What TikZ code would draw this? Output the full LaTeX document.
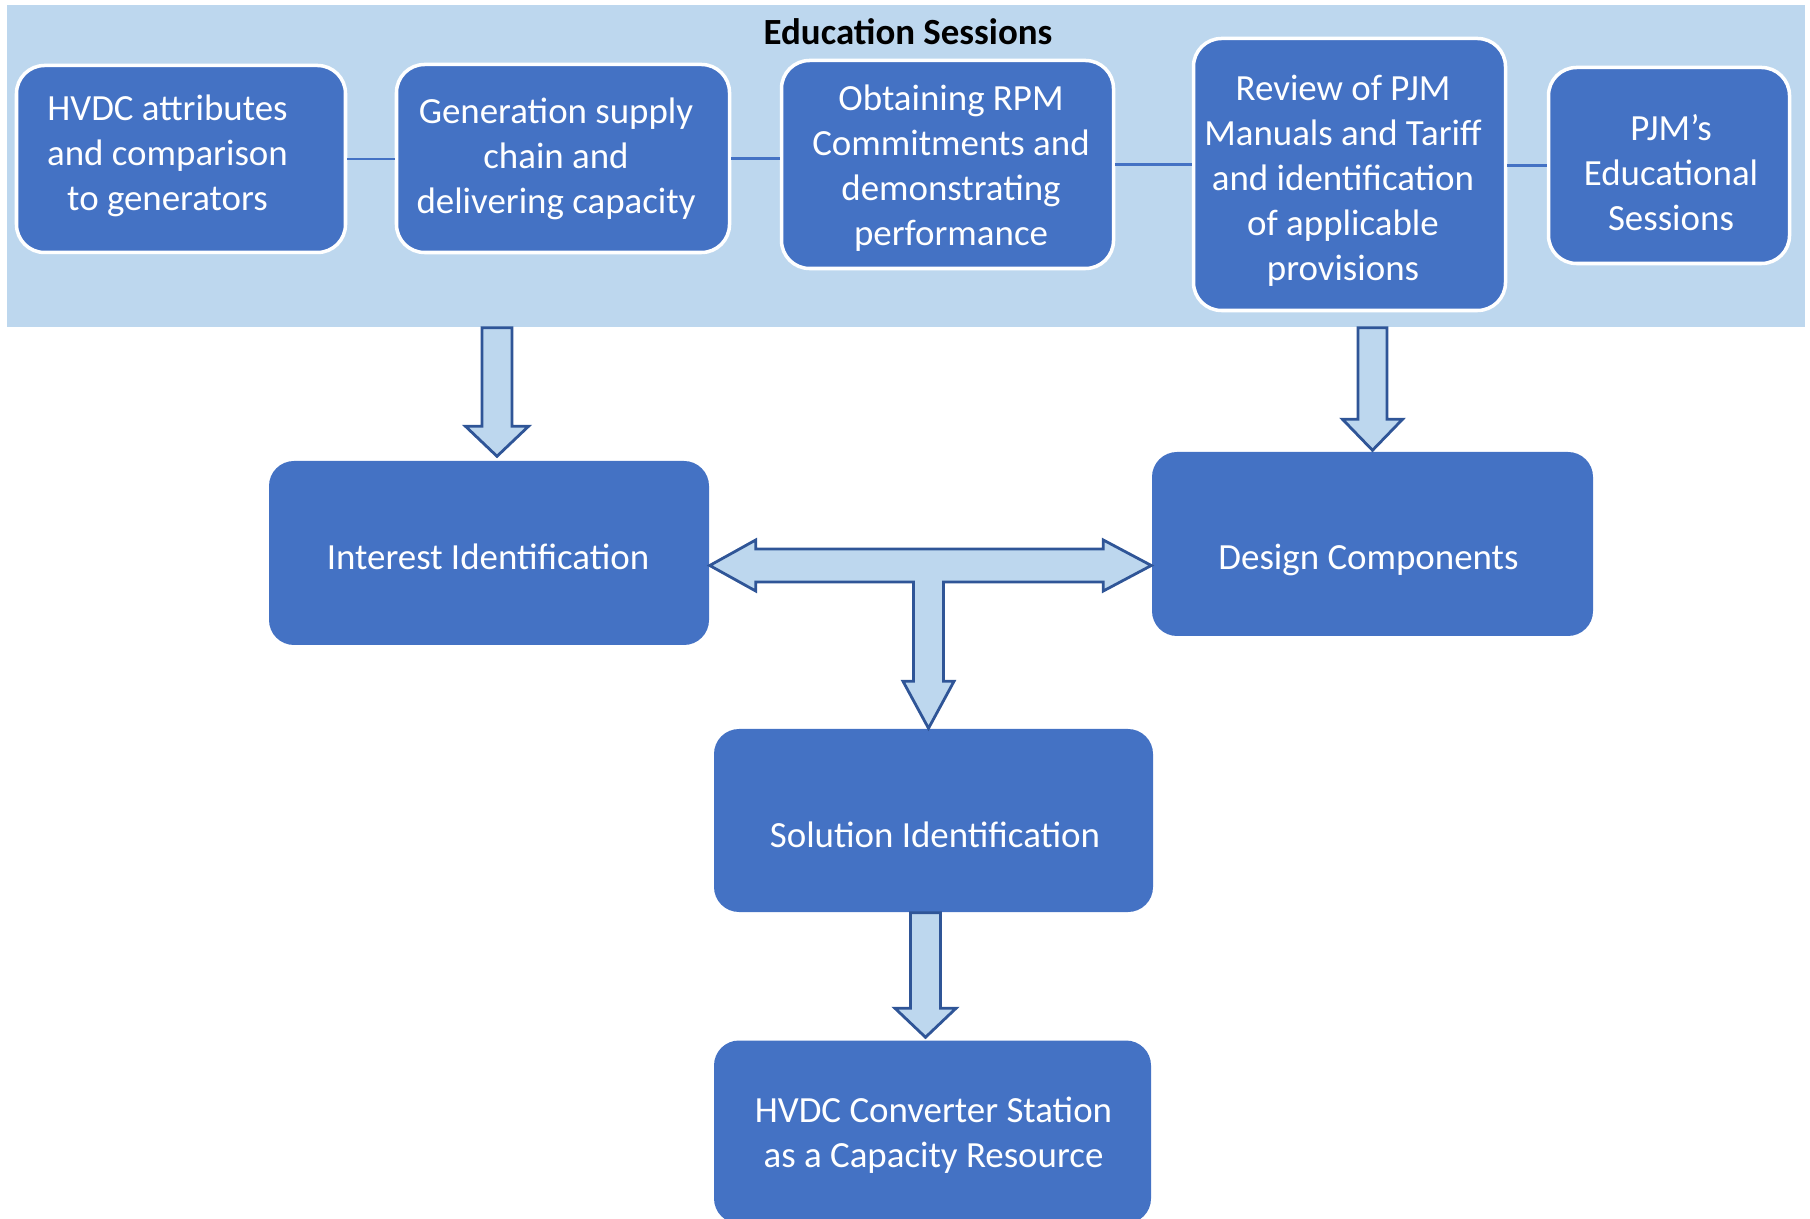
\documentclass[tikz,border=0pt]{standalone}
\usepackage{fontspec}
\setmainfont{Carlito}
\usetikzlibrary{calc}

\definecolor{boxblue}{HTML}{4472C4}
\definecolor{bandblue}{HTML}{BDD7EE}
\definecolor{edgeblue}{HTML}{2F5597}

\begin{document}
\begin{tikzpicture}[
    every node/.style={font=\fontsize{10.5}{12.8}\selectfont},
    topbox/.style={rectangle, rounded corners=2.8mm, draw=white, line width=1pt, fill=boxblue, inner sep=0pt},
    flowbox/.style={rectangle, rounded corners=2.5mm, fill=boxblue, inner sep=0pt},
    boxtext/.style={text=white, align=center, inner sep=0pt},
    blockarrow/.style={draw=edgeblue, fill=bandblue, line width=0.8pt, line join=miter},
    link/.style={draw=boxblue, line width=0.6pt}]
			\useasboundingbox (0,0) rectangle (18.10,-12.19);

			% Education band
			\node[fill=bandblue, inner sep=0pt, minimum width=17.98cm, minimum height=3.22cm] (band) at (9.06,-1.66) {};
			\node[font=\fontsize{10.5}{12.8}\selectfont\bfseries] (title) at (9.08,-0.32) {Education Sessions};

			% Session boxes
			\node[topbox, minimum width=3.29cm, minimum height=1.87cm,
				label={[boxtext, name=hvdc-text, shift={(-1.35mm,0.35mm)}]center:HVDC attributes\\and comparison\\to generators}] (hvdc) at (1.81,-1.59) {};
			\node[topbox, minimum width=3.33cm, minimum height=1.88cm,
				label={[boxtext, name=supply-text, shift={(-0.7mm,0mm)}]center:Generation supply\\chain and\\delivering capacity}] (supply) at (5.63,-1.585) {};
			\node[topbox, minimum width=3.32cm, minimum height=2.08cm,
				label={[boxtext, name=rpm-text, shift={(0.35mm,-0.35mm)}]center:Obtaining RPM\\Commitments and\\demonstrating\\performance}] (rpm) at (9.475,-1.645) {};
			\node[topbox, minimum width=3.12cm, minimum height=2.72cm,
				label={[boxtext, name=manuals-text, shift={(-0.65mm,-0.6mm)}]center:Review of PJM\\Manuals and Tariff\\and identification\\of applicable\\provisions}] (manuals) at (13.495,-1.745) {};
			\node[topbox, minimum width=2.41cm, minimum height=1.96cm,
				label={[boxtext, name=edu-text, shift={(0.2mm,-0.75mm)}]center:PJM’s\\Educational\\Sessions}] (edu) at (16.69,-1.655) {};

			\draw[link] (hvdc.east) -- (hvdc.east -| supply.west);
			\draw[link] (supply.east) -- (supply.east -| rpm.west);
			\draw[link] (rpm.east) -- (rpm.east -| manuals.west);
			\draw[link] (manuals.east |- edu.west) -- (edu.west);

			% Flow boxes
			\node[flowbox, minimum width=4.40cm, minimum height=1.84cm,
				label={[boxtext, name=interest-text, shift={(-0.1mm,-0.35mm)}]center:Interest Identification}] (interest) at (4.89,-5.53) {};
			\node[flowbox, minimum width=4.41cm, minimum height=1.84cm,
				label={[boxtext, name=design-text, shift={(-0.4mm,-1.6mm)}]center:Design Components}] (design) at (13.725,-5.44) {};
			\node[flowbox, minimum width=4.39cm, minimum height=1.83cm,
				label={[boxtext, name=solution-text, shift={(0.15mm,-1.4mm)}]center:Solution Identification}] (solution) at (9.335,-8.205) {};
			\node[flowbox, minimum width=4.37cm, minimum height=1.83cm,
				label={[boxtext, name=converter-text, shift={(0.1mm,-0.35mm)}]center:HVDC Converter Station\\as a Capacity Resource}] (converter) at (9.325,-11.32) {};

			% Block arrows
			\draw[blockarrow] let \p1=(band.south), \p2=([shift={(0.8mm,0.4mm)}]interest.north) in
				(\x2-1.5mm,\y1) -- (\x2-1.5mm,\y2+3mm) -- (\x2-3.15mm,\y2+3mm) -- (\x2,\y2) -- (\x2+3.15mm,\y2+3mm) -- (\x2+1.5mm,\y2+3mm) -- (\x2+1.5mm,\y1) -- cycle;
			\draw[blockarrow] let \p1=(band.south), \p2=([shift={(0mm,0.1mm)}]design.north) in
				(\x2-1.45mm,\y1) -- (\x2-1.45mm,\y2+3.1mm) -- (\x2-3mm,\y2+3.1mm) -- (\x2,\y2) -- (\x2+3mm,\y2+3.1mm) -- (\x2+1.45mm,\y2+3.1mm) -- (\x2+1.45mm,\y1) -- cycle;
			\draw[blockarrow] let \p1=([yshift=-1.25mm]interest.east), \p2=(design.west), \p3=([xshift=-0.5mm]solution.north) in
				(\x1,\y1) -- (\x1+4.6mm,\y1+2.55mm) -- (\x1+4.6mm,\y1+1.65mm) -- (\x2-4.8mm,\y1+1.65mm) -- (\x2-4.8mm,\y1+2.55mm) -- (\x2,\y1)
				-- (\x2-4.8mm,\y1-2.55mm) -- (\x2-4.8mm,\y1-1.65mm) -- (\x3+1.5mm,\y1-1.65mm) -- (\x3+1.5mm,\y3+4.7mm) -- (\x3+2.55mm,\y3+4.7mm) -- (\x3,\y3)
				-- (\x3-2.55mm,\y3+4.7mm) -- (\x3-1.5mm,\y3+4.7mm) -- (\x3-1.5mm,\y1-1.65mm) -- (\x1+4.6mm,\y1-1.65mm) -- (\x1+4.6mm,\y1-2.55mm) -- cycle;
			\draw[blockarrow] let \p1=(solution.south), \p2=([shift={(-0.7mm,0.25mm)}]converter.north) in
				(\x2-1.5mm,\y1) -- (\x2-1.5mm,\y2+2.9mm) -- (\x2-3.05mm,\y2+2.9mm) -- (\x2,\y2) -- (\x2+3.05mm,\y2+2.9mm) -- (\x2+1.5mm,\y2+2.9mm) -- (\x2+1.5mm,\y1) -- cycle;
		\end{tikzpicture}
\end{document}
